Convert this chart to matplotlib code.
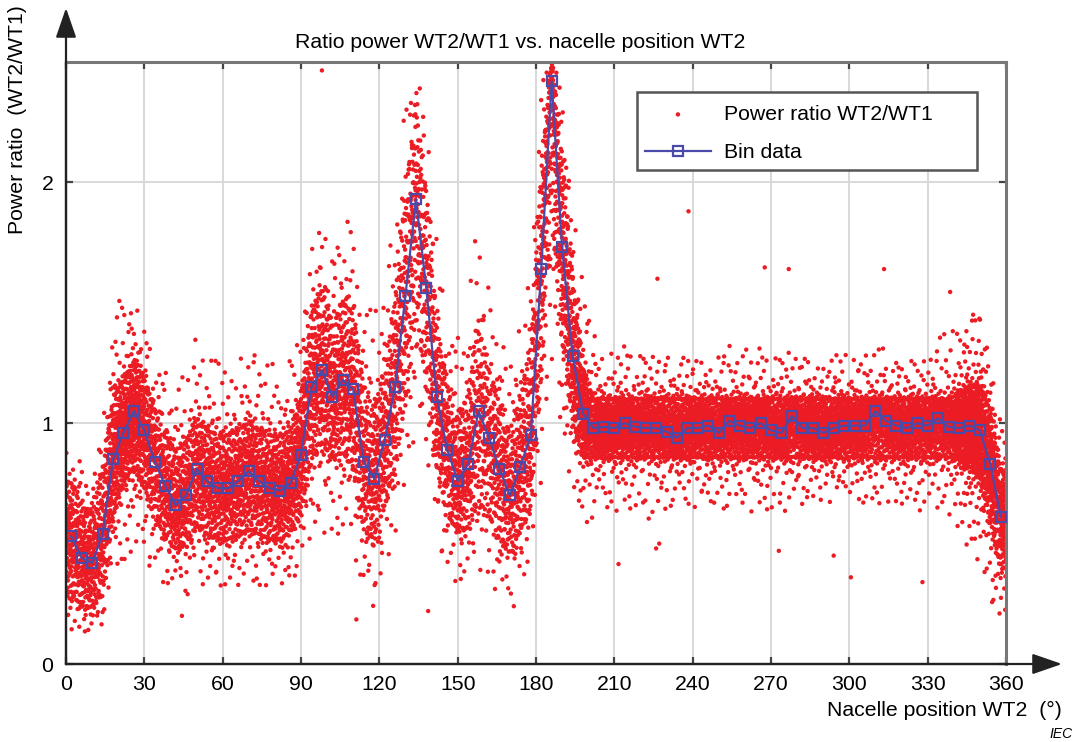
import numpy as np
import matplotlib
matplotlib.use("Agg")
import matplotlib.pyplot as plt
from matplotlib.patches import Rectangle

plt.rcParams['font.family'] = ['Liberation Sans', 'DejaVu Sans']

# ---- bin data (4 degree bins) ----
bin_center = np.arange(2, 360, 4)
bin_ratio = [
    0.53, 0.44, 0.42, 0.54, 0.85, 0.96, 1.05, 0.97, 0.84, 0.74,
    0.66, 0.70, 0.81, 0.76, 0.73, 0.73, 0.76, 0.80, 0.76, 0.73,
    0.72, 0.75, 0.87, 1.15, 1.22, 1.11, 1.18, 1.14, 0.84, 0.77,
    0.93, 1.15, 1.53, 1.93, 1.56, 1.11, 0.89, 0.76, 0.83, 1.05,
    0.94, 0.81, 0.70, 0.82, 0.95, 1.64, 2.42, 1.73, 1.28, 1.04,
    0.98, 0.985, 0.98, 1.00, 0.985, 0.98, 0.98, 0.965, 0.94, 0.98,
    0.98, 0.99, 0.96, 1.01, 0.99, 0.98, 1.00, 0.97, 0.96, 1.03,
    0.98, 0.98, 0.96, 0.98, 0.99, 0.99, 0.99, 1.05, 1.01, 0.99,
    0.98, 1.00, 0.99, 1.02, 0.985, 0.98, 0.99, 0.97, 0.83, 0.61,
]

# ---- spread of the 10-min samples in each bin ----
# extreme values, 10 % and 90 % levels, and number of samples per bin
cloud_min = [
    0.12, 0.12, 0.12, 0.15, 0.30, 0.40, 0.45, 0.40, 0.35, 0.30,
    0.30, 0.25, 0.30, 0.30, 0.30, 0.30, 0.30, 0.30, 0.30, 0.30,
    0.30, 0.30, 0.40, 0.50, 0.50, 0.50, 0.50, 0.45, 0.20, 0.20,
    0.35, 0.50, 0.70, 0.90, 0.80, 0.50, 0.35, 0.30, 0.30, 0.35,
    0.30, 0.25, 0.25, 0.30, 0.40, 0.70, 1.20, 0.90, 0.70, 0.55,
    0.58, 0.62, 0.60, 0.64, 0.60, 0.56, 0.60, 0.62, 0.58, 0.64,
    0.62, 0.66, 0.60, 0.64, 0.62, 0.60, 0.64, 0.60, 0.58, 0.66,
    0.64, 0.68, 0.62, 0.66, 0.70, 0.68, 0.64, 0.60, 0.66, 0.62,
    0.66, 0.60, 0.64, 0.62, 0.60, 0.50, 0.45, 0.40, 0.25, 0.15,
]
cloud_low = [
    0.30, 0.24, 0.24, 0.30, 0.62, 0.76, 0.82, 0.74, 0.62, 0.53,
    0.48, 0.50, 0.58, 0.54, 0.52, 0.52, 0.54, 0.56, 0.54, 0.52,
    0.52, 0.55, 0.64, 0.86, 0.92, 0.86, 0.88, 0.82, 0.56, 0.52,
    0.66, 0.82, 1.10, 1.45, 1.18, 0.82, 0.62, 0.56, 0.57, 0.68,
    0.62, 0.52, 0.46, 0.56, 0.66, 1.20, 1.90, 1.35, 1.02, 0.86,
] + [0.86] * 35 + [0.85, 0.82, 0.78, 0.60, 0.40]
cloud_high = [
    0.75, 0.65, 0.62, 0.80, 1.10, 1.18, 1.25, 1.18, 1.05, 0.95,
    0.88, 0.92, 1.02, 0.97, 0.95, 0.95, 0.97, 1.00, 0.97, 0.95,
    0.94, 0.97, 1.10, 1.45, 1.55, 1.40, 1.50, 1.45, 1.15, 1.05,
    1.22, 1.50, 1.95, 2.30, 1.95, 1.40, 1.15, 1.00, 1.12, 1.40,
    1.22, 1.08, 0.95, 1.10, 1.30, 2.05, 2.50, 2.10, 1.60, 1.22,
] + [1.10] * 35 + [1.12, 1.15, 1.15, 1.05, 0.80]
cloud_max = [
    0.95, 0.85, 0.80, 1.00, 1.45, 1.60, 1.55, 1.40, 1.30, 1.25,
    1.20, 1.25, 1.45, 1.30, 1.30, 1.30, 1.30, 1.35, 1.30, 1.30,
    1.25, 1.30, 1.45, 1.75, 1.85, 1.75, 1.95, 1.80, 1.60, 1.50,
    1.65, 1.90, 2.45, 2.50, 2.30, 1.80, 1.50, 1.40, 1.60, 1.95,
    1.60, 1.40, 1.30, 1.45, 1.70, 2.45, 2.50, 2.45, 1.95, 1.60,
    1.40, 1.35, 1.30, 1.38, 1.32, 1.28, 1.35, 1.30, 1.25, 1.32,
    1.28, 1.25, 1.30, 1.35, 1.30, 1.35, 1.38, 1.30, 1.28, 1.35,
    1.30, 1.25, 1.28, 1.30, 1.32, 1.28, 1.30, 1.38, 1.32, 1.28,
    1.30, 1.25, 1.32, 1.38, 1.42, 1.45, 1.50, 1.45, 1.30, 1.05,
]
cloud_count = [
    130, 130, 130, 140, 180, 200, 200, 170, 140, 130,
    130, 130, 130, 140, 140, 140, 140, 140, 140, 140,
    140, 160, 180, 150, 150, 150, 150, 150, 130, 130,
    130, 130, 130, 120, 120, 130, 130, 130, 120, 110,
    110, 120, 120, 120, 140, 150, 160, 170, 190, 210,
] + [150] * 35 + [200, 260, 280, 230, 170]

# isolated samples away from the main cloud
stray_angle = [98.0, 211.6, 226.0, 227.2, 273.0, 294.0, 300.6, 328.0, 238.4,
               226.5, 276.8, 313.3, 338.6, 267.6, 44.4, 111.2, 138.7, 171.5]
stray_ratio = [2.465, 0.415, 0.48, 0.50, 0.47, 0.45, 0.36, 0.34, 1.88,
               1.60, 1.64, 1.64, 1.545, 1.647, 0.20, 0.185, 0.22, 0.24]

x_ticks = [0, 30, 60, 90, 120, 150, 180, 210, 240, 270, 300, 330, 360]
y_ticks = [0, 1, 2]


# ---- expand the per-bin spread into individual samples ----
def radical_inverse(i, base):
    f, r = 1.0, 0.0
    while i > 0:
        f /= base
        r += f * (i % base)
        i //= base
    return r


def logit(p):
    return np.log(p / (1.0 - p))


L90 = logit(0.9)
TAIL_EXP = 3.5
xs, ys = [], []
start = 1
for k, c in enumerate(bin_center):
    n = cloud_count[k]
    idx = np.arange(start, start + n)
    start += n
    xa = c - 2 + 4 * np.array([radical_inverse(i, 2) for i in idx])
    pa = np.array([radical_inverse(i, 3) for i in idx])
    pa = np.clip(pa, 0.5 / n, 1 - 0.5 / n)
    lo = np.interp(xa, bin_center, cloud_low)
    md = np.interp(xa, bin_center, bin_ratio)
    hi = np.interp(xa, bin_center, cloud_high)
    mn = np.interp(xa, bin_center, cloud_min)
    mx = np.interp(xa, bin_center, cloud_max)
    # core between the 10 % and 90 % levels
    z = logit(np.clip(pa, 0.1, 0.9)) / L90
    ya = np.where(z >= 0, md + (hi - md) * z, md + (md - lo) * z)
    # sparse tails out to the observed extremes
    tu = np.clip((pa - 0.9) / 0.1, 0, 1) ** TAIL_EXP
    td = np.clip((0.1 - pa) / 0.1, 0, 1) ** TAIL_EXP
    ya = np.where(pa > 0.9, hi + (mx - hi) * tu, ya)
    ya = np.where(pa < 0.1, lo - (lo - mn) * td, ya)
    xs.append(xa)
    ys.append(ya)
xs = np.concatenate(xs + [np.array(stray_angle)])
ys = np.concatenate(ys + [np.array(stray_ratio)])

# ---- figure ----
fig = plt.figure(figsize=(10.76, 7.42), dpi=100)
ax = fig.add_axes([66 / 1076, 1 - 664 / 742, 940 / 1076, 602 / 742])

ax.scatter(xs, ys, s=10, c='#ec1c24', edgecolors='none', zorder=2,
           label='Power ratio WT2/WT1')
ax.plot(bin_center, bin_ratio, color='#4a4aaa', lw=1.6, marker='s',
        markersize=7, markerfacecolor='none', markeredgecolor='#4a4aaa',
        markeredgewidth=1.6, zorder=3, label='Bin data')

ax.set_xlim(0, 360)
ax.set_ylim(0, 2.5)
ax.set_xticks(x_ticks)
ax.set_yticks(y_ticks)
ax.grid(True, color='#d8d8d8', lw=1.4)
ax.set_axisbelow(True)
ax.tick_params(axis='both', direction='in', length=5, width=1.6,
               color='#444444', labelsize=15.3, top=True, right=True)
ax.tick_params(axis='x', pad=8)
ax.tick_params(axis='y', pad=9)

for side in ('top', 'right'):
    ax.spines[side].set_color('#777777')
    ax.spines[side].set_linewidth(2.2)
for side in ('left', 'bottom'):
    ax.spines[side].set_color('#222222')
    ax.spines[side].set_linewidth(1.6)

# axis arrows
arrow_style = dict(arrowstyle='-|>,head_length=1.3,head_width=0.45',
                   color='#222222', lw=1.6, shrinkA=0, shrinkB=0,
                   mutation_scale=14)
ax.annotate('', xy=(0, (664 - 8) / 602), xytext=(0, 0), xycoords='axes fraction',
            arrowprops=arrow_style, annotation_clip=False)
ax.annotate('', xy=((1062 - 66) / 940, 0), xytext=(0, 0), xycoords='axes fraction',
            arrowprops=arrow_style, annotation_clip=False)

fig.text(520 / 1076, 1 - 42 / 742, 'Ratio power WT2/WT1 vs. nacelle position WT2',
         ha='center', va='center', fontsize=15.3)
fig.text(18 / 1076, 1 - 5 / 742, 'Power ratio  (WT2/WT1)', rotation=90,
         ha='center', va='top', fontsize=15.3)
fig.text(1062 / 1076, 1 - 710 / 742, 'Nacelle position WT2  (°)',
         ha='right', va='center', fontsize=15.3)
fig.text(1073 / 1076, 1 - 734 / 742, 'IEC', ha='right', va='center',
         fontsize=10, style='italic')

# legend
frame = Rectangle((637 / 1076, 1 - 170 / 742), 340 / 1076, 78 / 742,
                  transform=fig.transFigure, facecolor='white',
                  edgecolor='#555555', lw=1.8, zorder=5, clip_on=False)
ax.add_patch(frame)
leg = ax.legend(loc='upper left', bbox_to_anchor=(645 / 1076, 1 - 105 / 742),
                bbox_transform=fig.transFigure, frameon=False, fontsize=15.3,
                handlelength=3.1, handletextpad=0.6, labelspacing=0.9,
                borderpad=0, borderaxespad=0, markerscale=1.0)
leg.set_zorder(6)

fig.savefig('out.png', dpi=100)
